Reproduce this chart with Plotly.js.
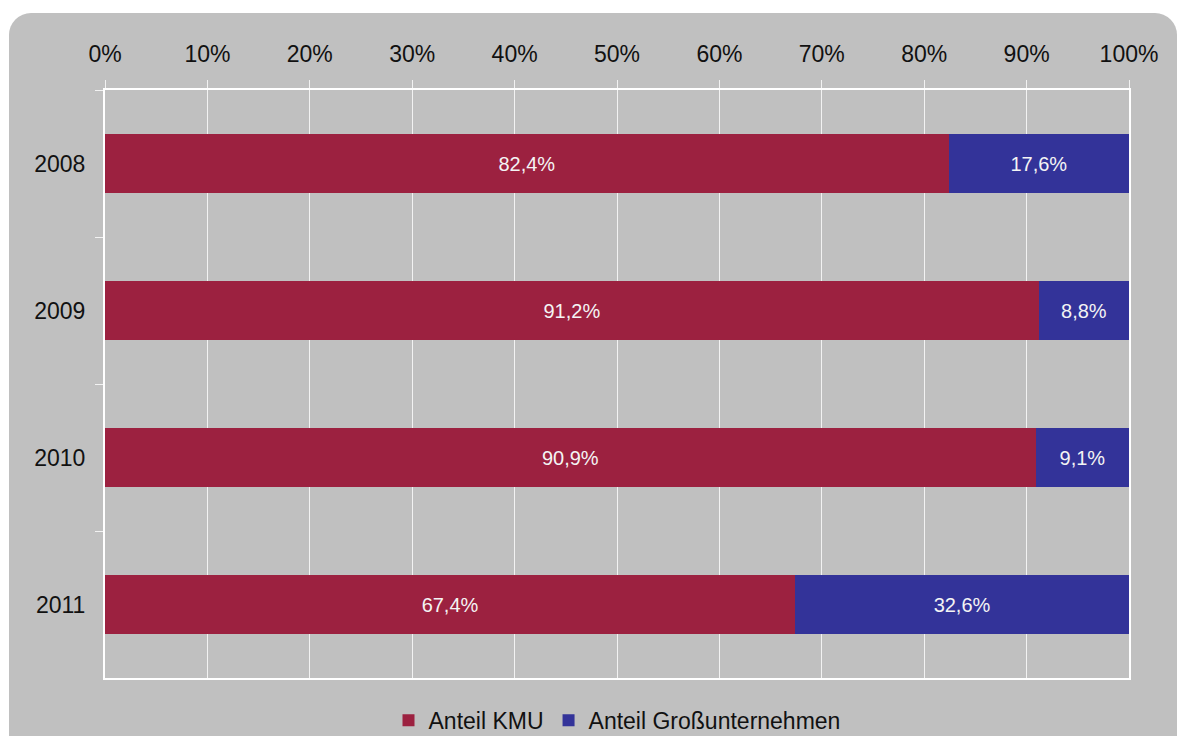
<!DOCTYPE html>
<html>
<head>
<meta charset="utf-8">
<script src="https://cdn.plot.ly/plotly-3.0.1.min.js"></script>
<style>
  html, body { margin: 0; padding: 0; background: #ffffff; overflow: hidden; }
  #bg { position: absolute; left: 9px; top: 13px; width: 1168px; height: 800px;
        background: #c0c0c0; border-radius: 22px; }
  #chart { position: absolute; left: 0; top: 0; width: 1179px; height: 736px; }
</style>
</head>
<body>
<div id="bg"></div>
<div id="chart"></div>
<script>
const years = ['2008', '2009', '2010', '2011'];
const anteilKMU = [82.4, 91.2, 90.9, 67.4];
const anteilGross = [17.6, 8.8, 9.1, 32.6];
const seriesNames = ['Anteil KMU', 'Anteil Großunternehmen'];
const xTickVals = [0, 10, 20, 30, 40, 50, 60, 70, 80, 90, 100];
const xTickText = ['0%', '10%', '20%', '30%', '40%', '50%', '60%', '70%', '80%', '90%', '100%'];

const font = 'Liberation Sans, Arial, sans-serif';

const traces = [
  {
    type: 'bar', orientation: 'h', name: seriesNames[0],
    y: years, x: anteilKMU,
    marker: { color: '#9c2140' },
    texttemplate: '%{x:.1f}%', textposition: 'inside', insidetextanchor: 'middle',
    textfont: { color: '#f4f4f4', size: 20, family: font },
    hoverinfo: 'x+y+name'
  },
  {
    type: 'bar', orientation: 'h', name: seriesNames[1],
    y: years, x: anteilGross,
    marker: { color: '#333399' },
    texttemplate: '%{x:.1f}%', textposition: 'inside', insidetextanchor: 'middle',
    textfont: { color: '#f4f4f4', size: 20, family: font },
    hoverinfo: 'x+y+name'
  }
];

const layout = {
  width: 1179, height: 736,
  paper_bgcolor: 'rgba(0,0,0,0)',
  plot_bgcolor: '#c0c0c0',
  margin: { l: 105, r: 50, t: 90, b: 58, autoexpand: false },
  barmode: 'stack',
  bargap: 0.6,
  separators: ',.',
  font: { family: font, size: 23, color: '#111111' },
  showlegend: true,
  legend: {
    orientation: 'h', x: 0.5, xanchor: 'center', y: -0.072, yanchor: 'middle',
    font: { size: 23, family: font, color: '#111111' },
    bgcolor: 'rgba(0,0,0,0)', traceorder: 'normal', itemwidth: 30
  },
  xaxis: {
    side: 'top', range: [0, 100], tickvals: xTickVals, ticktext: xTickText,
    showgrid: true, gridcolor: '#f2f2f2', gridwidth: 1,
    showline: true, linecolor: '#ffffff', linewidth: 2, mirror: true,
    ticks: 'outside', ticklen: 8, tickcolor: '#f2f2f2', tickwidth: 1,
    ticklabelstandoff: 9,
    tickfont: { size: 23, family: font, color: '#111111' },
    zeroline: false, fixedrange: true
  },
  yaxis: {
    type: 'category', categoryorder: 'array', categoryarray: years,
    autorange: 'reversed',
    showgrid: false,
    showline: true, linecolor: '#ffffff', linewidth: 2, mirror: true,
    ticks: 'outside', tickson: 'boundaries', ticklen: 8, tickcolor: '#f2f2f2', tickwidth: 1,
    ticklabelstandoff: 13,
    tickfont: { size: 23, family: font, color: '#111111' },
    fixedrange: true
  }
};

Plotly.newPlot('chart', traces, layout, { displayModeBar: false, staticPlot: true });
</script>
</body>
</html>
